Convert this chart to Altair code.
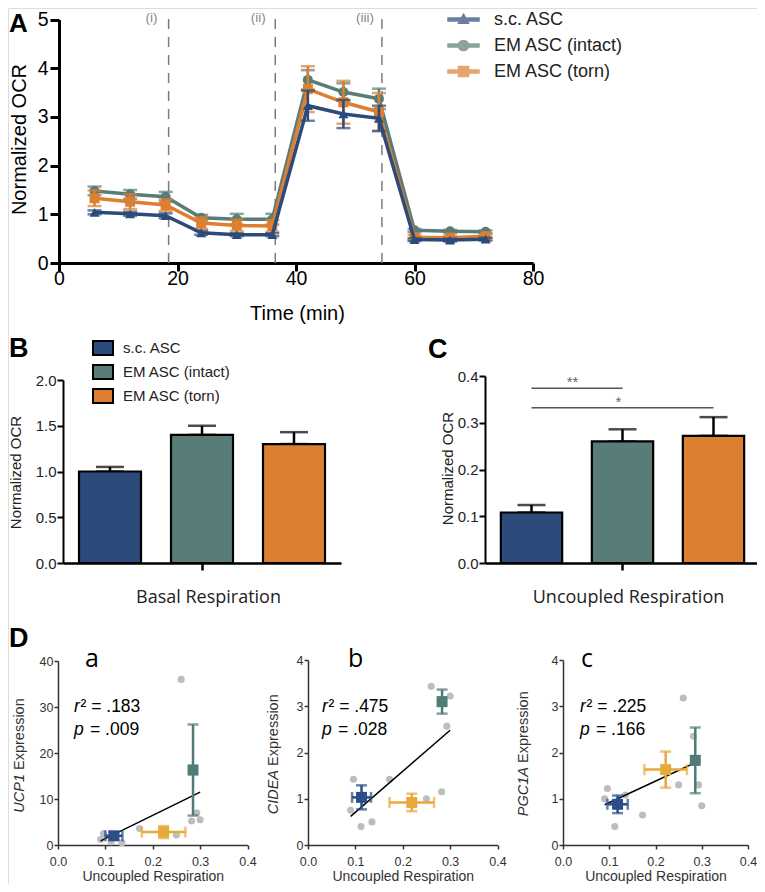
import altair as alt
import pandas as pd

# ---------------- data ----------------
groups = ["s.c. ASC", "EM ASC (intact)", "EM ASC (torn)"]

# Panel A: time course of normalized OCR (mean, s.e.m.)
times = [6, 12, 18, 24, 30, 36, 42, 48, 54, 60, 66, 72]
sc_mean     = [1.04, 1.01, 0.97, 0.62, 0.58, 0.58, 3.23, 3.06, 2.97, 0.48, 0.47, 0.49]
sc_err      = [0.04, 0.04, 0.05, 0.04, 0.03, 0.03, 0.31, 0.29, 0.26, 0.03, 0.03, 0.03]
intact_mean = [1.48, 1.41, 1.36, 0.93, 0.90, 0.90, 3.76, 3.51, 3.37, 0.67, 0.65, 0.64]
intact_err  = [0.09, 0.09, 0.10, 0.06, 0.11, 0.11, 0.20, 0.18, 0.21, 0.03, 0.03, 0.03]
torn_mean   = [1.33, 1.26, 1.19, 0.82, 0.77, 0.76, 3.57, 3.30, 3.10, 0.53, 0.52, 0.55]
torn_err    = [0.16, 0.15, 0.12, 0.12, 0.12, 0.12, 0.47, 0.44, 0.39, 0.05, 0.04, 0.04]
injection_times  = [18.5, 36.5, 54.5]
injection_labels = ["(i)", "(ii)", "(iii)"]

# Panels B and C
basal_mean = [1.00, 1.40, 1.30]
basal_err  = [0.05, 0.10, 0.13]
uncoupled_mean = [0.108, 0.260, 0.272]
uncoupled_err  = [0.016, 0.026, 0.040]
sig_from  = ["s.c. ASC", "s.c. ASC"]
sig_to    = ["EM ASC (intact)", "EM ASC (torn)"]
sig_level = [0.374, 0.332]
sig_text  = ["**", "*"]

# Panel D: individual samples (uncoupled respiration vs gene expression)
d_x     = [0.090, 0.096, 0.112, 0.135, 0.172, 0.250, 0.260, 0.282, 0.293, 0.300]
ucp1_y  = [1.2, 2.5, 0.7, 0.5, 3.6, 2.2, 36.0, 5.2, 7.0, 5.5]
cidea_y = [0.75, 1.42, 0.40, 0.50, 1.42, 1.00, 3.43, 1.15, 2.57, 3.22]
pgc1a_y = [1.00, 1.22, 0.40, 1.08, 0.65, 1.30, 3.18, 2.35, 1.30, 0.85]
# group means (x mean, x err, y mean, y err) in order of `groups`
ucp1_mx,  ucp1_mxe,  ucp1_my,  ucp1_mye  = [0.118, 0.285, 0.223], [0.018, 0.006, 0.046], [2.0, 16.3, 2.8], [0.8, 9.9, 1.3]
cidea_mx, cidea_mxe, cidea_my, cidea_mye = [0.113, 0.283, 0.219], [0.020, 0.006, 0.047], [1.03, 3.10, 0.92], [0.26, 0.26, 0.19]
pgc1a_mx, pgc1a_mxe, pgc1a_my, pgc1a_mye = [0.118, 0.286, 0.222], [0.022, 0.006, 0.046], [0.88, 1.83, 1.63], [0.19, 0.71, 0.39]
# regression lines (end points)
ucp1_fit_x,  ucp1_fit_y  = [0.09, 0.30], [0.9, 11.5]
cidea_fit_x, cidea_fit_y = [0.09, 0.30], [0.62, 2.48]
pgc1a_fit_x, pgc1a_fit_y = [0.09, 0.29], [0.87, 1.80]
stats = [("r", "\u00b2 = .183", "p", "= .009"), ("r", "\u00b2 = .475", "p", "= .028"), ("r", "\u00b2 = .225", "p", "= .166")]
genes = ["UCP1", "CIDEA", "PGC1A"]

# ---------------- style / layout ----------------
FONT = "Liberation Sans"
TFONT = "Open Sans"
ABC_COLORS = ["#2C4A7A", "#587D79", "#DC7F31"]
D_COLORS = ["#2B4D88", "#4F7C78", "#E8A83A"]
GRAY_PT = "#BDBDBD"

OX, OY, W, H = 8, 8, 749, 876
def cx(v): return v - OX
def cy(v): return v - OY
def off_b(v): return v - OY - H
def off_l(v): return OX - v

dummy = pd.DataFrame({"k": [0]})
def txt(s, x, y, size, font=FONT, weight="normal", style="normal", color="black",
        align="left", baseline="alphabetic", angle=0):
    return alt.Chart(dummy).mark_text(
        text=s, font=font, fontSize=size, fontWeight=weight, fontStyle=style, color=color,
        align=align, baseline=baseline, angle=angle
    ).encode(x=alt.value(cx(x)), y=alt.value(cy(y)))

# ---------------- Panel A ----------------
rows = []
for g, m, e in zip(groups, [sc_mean, intact_mean, torn_mean], [sc_err, intact_err, torn_err]):
    for t, mm, ee in zip(times, m, e):
        rows.append({"time": t, "group": g, "ocr": mm, "lo": mm - ee, "hi": mm + ee})
dfA = pd.DataFrame(rows)

scA_x = alt.Scale(domain=[0, 80], range=[cx(59), cx(533)], nice=False, zero=False)
scA_y = alt.Scale(domain=[0, 5], range=[cy(263), cy(19.5)], nice=False)
axA_x = alt.Axis(orient="bottom", offset=off_b(263), values=[0, 20, 40, 60, 80], format="d", grid=False,
                 domainColor="black", domainWidth=3, tickColor="black", tickWidth=3, tickSize=8,
                 labelFont=FONT, labelFontSize=19.5, labelColor="black", labelBaseline="alphabetic",
                 labelPadding=13, labelFlush=False,
                 title="Time (min)", titleFont=FONT, titleFontSize=20, titleFontWeight="normal",
                 titleColor="black", titleX=cx(297), titleY=56, titleBaseline="alphabetic", titleAlign="center")
axA_y = alt.Axis(orient="left", offset=off_l(59), values=[0, 1, 2, 3, 4, 5], format="d", grid=False,
                 domainColor="black", domainWidth=3, tickColor="black", tickWidth=3, tickSize=9,
                 labelFont=FONT, labelFontSize=19.5, labelColor="black", labelPadding=2,
                 title="Normalized OCR", titleFont=FONT, titleFontSize=20, titleFontWeight="normal",
                 titleColor="black", titleX=25.5 - 59, titleY=cy(139), titleBaseline="alphabetic", titleAlign="center")

LINE = "M-1,-0.1H1V0.1H-1Z "
TRI = LINE + "M0,-0.34L0.32,0.24L-0.32,0.24Z"
CIRC = LINE + "M0.33,0A0.33,0.33,0,1,1,-0.33,0A0.33,0.33,0,1,1,0.33,0Z"
SQ = LINE + "M-0.33,-0.33H0.33V0.33H-0.33Z"
legA_def = alt.Legend(orient="none", legendX=cx(447), legendY=cy(18.5) - 15.5, title=None, padding=0,
                      symbolSize=961, labelFont=FONT, labelFontSize=18, labelColor="#222",
                      labelOffset=14, rowPadding=0, symbolOffset=0)
colA = alt.Color("group:N", scale=alt.Scale(domain=groups, range=ABC_COLORS), legend=legA_def)

def seriesA(g, shape):
    base = alt.Chart(dfA).transform_filter(alt.datum.group == g)
    x = alt.X("time:Q", scale=scA_x, axis=axA_x)
    line = base.mark_line(strokeWidth=3.5).encode(x=x, y=alt.Y("ocr:Q", scale=scA_y, axis=axA_y), color=colA)
    err = base.mark_errorbar(ticks=True, size=14, thickness=2.5).encode(
        x=x, y=alt.Y("lo:Q", scale=scA_y, axis=axA_y), y2="hi:Q", color=colA)
    pts = base.mark_point(shape=shape, filled=True, size=100, opacity=1).encode(
        x=x, y=alt.Y("ocr:Q", scale=scA_y, axis=axA_y), color=colA)
    return alt.layer(line, err, pts)

dfInj = pd.DataFrame({"time": injection_times, "label": injection_labels})
inj_rules = alt.Chart(dfInj).mark_rule(color="#7a7a7a", strokeWidth=1.5, strokeDash=[10, 8]).encode(
    x=alt.X("time:Q", scale=scA_x, axis=axA_x),
    y=alt.YDatum(0.0, scale=scA_y, axis=axA_y), y2=alt.Y2Datum(5.04))
inj_text = alt.Chart(dfInj).mark_text(font=FONT, fontSize=13.5, color="#888888", dx=-17, baseline="middle").encode(
    x=alt.X("time:Q", scale=scA_x, axis=axA_x),
    y=alt.YDatum(5.04, scale=scA_y, axis=axA_y), text="label:N")

legA = alt.Chart(dfA).transform_filter("false").mark_point(filled=True, opacity=1).encode(
    color=colA,
    shape=alt.Shape("group:N", scale=alt.Scale(domain=groups, range=[TRI, CIRC, SQ]), legend=legA_def))

panelA = alt.layer(inj_rules, inj_text,
                   seriesA(groups[1], "circle"), seriesA(groups[2], "square"), seriesA(groups[0], "triangle-up"),
                   legA)

# ---------------- Panels B, C ----------------
def bar_panel(vals, errs, x0, x1, ytop, ymax, yvals, title, title_cx, ytitle_x, ytitle_cy, legend, with_sig=False):
    df = pd.DataFrame({"group": groups, "val": vals, "top": [v + e for v, e in zip(vals, errs)]})
    scx = alt.Scale(domain=groups, range=[cx(x0), cx(x1)], paddingInner=0.326, paddingOuter=0.174)
    scy = alt.Scale(domain=[0, ymax], range=[cy(563), cy(ytop)], nice=False)
    axx = alt.Axis(orient="bottom", offset=off_b(563), values=[groups[1]], labels=False, grid=False,
                   domainColor="black", domainWidth=2.5, tickColor="black", tickWidth=2.5, tickSize=7,
                   title=title, titleFont=TFONT, titleFontSize=18, titleFontWeight="normal", titleColor="#222",
                   titleX=cx(title_cx), titleY=39, titleBaseline="alphabetic", titleAlign="center")
    axy = alt.Axis(orient="left", offset=off_l(x0), values=yvals, format=".1f", grid=False,
                   domainColor="black", domainWidth=2, tickColor="black", tickWidth=2, tickSize=6,
                   labelFont=FONT, labelFontSize=15, labelColor="#222", labelPadding=1,
                   title="Normalized OCR", titleFont=FONT, titleFontSize=15, titleFontWeight="normal",
                   titleColor="#222", titleX=ytitle_x - x0, titleY=cy(ytitle_cy), titleBaseline="alphabetic",
                   titleAlign="center")
    col = alt.Color("group:N", scale=alt.Scale(domain=groups, range=ABC_COLORS), legend=legend)
    err = alt.Chart(df).mark_errorbar(ticks=True, size=28, thickness=2.5, color="black").encode(
        x=alt.X("group:N", scale=scx, axis=axx), y=alt.Y("val:Q", scale=scy, axis=axy), y2="top:Q")
    bars = alt.Chart(df).mark_bar(stroke="black", strokeWidth=2.2).encode(
        x=alt.X("group:N", scale=scx, axis=axx), y=alt.Y("val:Q", scale=scy, axis=axy), color=col)
    layers = [err, bars]
    if with_sig:
        dfSig = pd.DataFrame({"g1": sig_from, "g2": sig_to, "level": sig_level, "label": sig_text})
        xs = alt.X("g1:N", scale=scx, axis=axx)
        ys = alt.Y("level:Q", scale=scy, axis=axy)
        rule = alt.Chart(dfSig).mark_rule(color="#555555", strokeWidth=1.5).encode(x=xs, x2="g2:N", y=ys)
        t1 = alt.Chart(dfSig).transform_filter(alt.datum.label == "**").mark_text(
            font=FONT, fontSize=15, color="#666666", dx=41, dy=-1, baseline="alphabetic").encode(
            x=xs, y=ys, text="label:N")
        t2 = alt.Chart(dfSig).transform_filter(alt.datum.label == "*").mark_text(
            font=FONT, fontSize=15, color="#666666", dx=87, dy=-1, baseline="alphabetic").encode(
            x=xs, y=ys, text="label:N")
        layers += [rule, t1, t2]
    return alt.layer(*layers)

legB_def = alt.Legend(orient="none", legendX=cx(92), legendY=cy(347) - 10, title=None, padding=0,
                      symbolType="M-1,-0.7H1V0.7H-1Z", symbolSize=400, symbolStrokeColor="black",
                      symbolStrokeWidth=2, labelFont=FONT, labelFontSize=15, labelColor="#222",
                      labelOffset=9, rowPadding=2, symbolOffset=0)
panelB = bar_panel(basal_mean, basal_err, 63, 341, 380, 2.0, [0, 0.5, 1.0, 1.5, 2.0],
                   "Basal Respiration", 208, 20, 472, legB_def)
panelC = bar_panel(uncoupled_mean, uncoupled_err, 485, 760, 376, 0.4, [0, 0.1, 0.2, 0.3, 0.4],
                   "Uncoupled Respiration", 628, 452, 468, None, with_sig=True)

# ---------------- Panel D ----------------
def panel_D(x0, x1, ydom, yvals, ytop, pts_y, fit_x, fit_y, mx, mxe, my, mye):
    scx = alt.Scale(domain=[0, 0.4], range=[cx(x0), cx(x1)], nice=False, zero=False)
    scy = alt.Scale(domain=ydom, range=[cy(845), cy(ytop)], nice=False)
    axx = alt.Axis(orient="bottom", offset=off_b(845), values=[0, 0.1, 0.2, 0.3, 0.4], format=".1f",
                   grid=False, domainColor="#333333", domainWidth=1.5, tickColor="#333333", tickWidth=1.5,
                   tickSize=4, labelFont=FONT, labelFontSize=12.5, labelColor="#333333",
                   labelBaseline="alphabetic", labelPadding=16, labelFlush=False,
                   title="Uncoupled Respiration", titleFont=FONT, titleFontSize=14, titleFontWeight="normal",
                   titleColor="#333333", titleX=cx((x0 + x1) / 2), titleY=35.5, titleBaseline="alphabetic",
                   titleAlign="center")
    axy = alt.Axis(orient="left", offset=off_l(x0), values=yvals, format="d", grid=False,
                   domainColor="#333333", domainWidth=1.5, tickColor="#333333", tickWidth=1.5, tickSize=4,
                   labelFont=FONT, labelFontSize=12.5, labelColor="#333333", labelPadding=1, title="")
    def X(f): return alt.X(f, scale=scx, axis=axx)
    def Y(f): return alt.Y(f, scale=scy, axis=axy)
    dpts = pd.DataFrame({"u": d_x, "e": pts_y})
    dfit = pd.DataFrame({"u": fit_x, "e": fit_y})
    dm = pd.DataFrame({"group": groups, "mx": mx, "my": my,
                       "xlo": [a - b for a, b in zip(mx, mxe)], "xhi": [a + b for a, b in zip(mx, mxe)],
                       "ylo": [a - b for a, b in zip(my, mye)], "yhi": [a + b for a, b in zip(my, mye)]})
    col = alt.Color("group:N", scale=alt.Scale(domain=groups, range=D_COLORS), legend=None)
    pts = alt.Chart(dpts).mark_circle(size=50, color=GRAY_PT, opacity=1).encode(x=X("u:Q"), y=Y("e:Q"))
    fit = alt.Chart(dfit).mark_line(color="black", strokeWidth=1.5).encode(x=X("u:Q"), y=Y("e:Q"))
    ebv = alt.Chart(dm).mark_errorbar(ticks=True, size=11, thickness=2.5).encode(
        x=X("mx:Q"), y=Y("ylo:Q"), y2="yhi:Q", color=col)
    ebh = alt.Chart(dm).mark_errorbar(ticks=True, size=11, thickness=2.5).encode(
        y=Y("my:Q"), x=X("xlo:Q"), x2="xhi:Q", color=col)
    sq = alt.Chart(dm).mark_square(size=120, opacity=1).encode(x=X("mx:Q"), y=Y("my:Q"), color=col)
    return alt.layer(pts, fit, ebv, ebh, sq)

Da = panel_D(58, 247.5, [0, 40], [0, 10, 20, 30, 40], 661, ucp1_y, ucp1_fit_x, ucp1_fit_y,
             ucp1_mx, ucp1_mxe, ucp1_my, ucp1_mye)
Db = panel_D(308, 497.5, [0, 4], [0, 1, 2, 3, 4], 660, cidea_y, cidea_fit_x, cidea_fit_y,
             cidea_mx, cidea_mxe, cidea_my, cidea_mye)
Dc = panel_D(563, 748, [0, 4], [0, 1, 2, 3, 4], 660, pgc1a_y, pgc1a_fit_x, pgc1a_fit_y,
             pgc1a_mx, pgc1a_mxe, pgc1a_my, pgc1a_mye)

# ---------------- annotations ----------------
texts = [
    txt("A", 9, 31.5, 26, weight="bold"),
    txt("B", 9, 357, 27, weight="bold"),
    txt("C", 428, 358, 27, weight="bold"),
    txt("D", 9, 647, 27, weight="bold"),
    txt("a", 85, 667, 25, font=TFONT),
    txt("b", 348, 667, 25, font=TFONT),
    txt("c", 581, 667, 25, font=TFONT),
]
for (rx, ry_base), (r, rest, p, prest) in zip([(74, 712), (322, 712), (580, 712)], stats):
    texts += [
        txt(r, rx, ry_base, 17.5, style="italic"),
        txt(rest, rx + 6.5, ry_base, 17.5),
        txt(p, rx, ry_base + 23, 17.5, style="italic"),
        txt(prest, rx + 16, ry_base + 23, 17.5),
    ]
for gx, gene, junction in zip([23.5, 278, 528], genes, [773, 769, 766]):
    texts += [
        txt(gene, gx, junction + 1, 14.5, style="italic", color="#333333", align="right", angle=270),
        txt("Expression", gx, junction - 3, 14.5, color="#333333", align="left", angle=270),
    ]

chart = alt.layer(panelA, panelB, panelC, Da, Db, Dc, *texts).resolve_scale(
    x="independent", y="independent", color="independent", shape="independent"
).properties(
    width=W, height=H, padding=0, autosize=alt.AutoSizeParams(type="none")
).configure_view(stroke=None).configure(font=FONT)

chart.save("out.html", embed_options={"renderer": "svg", "actions": False})
